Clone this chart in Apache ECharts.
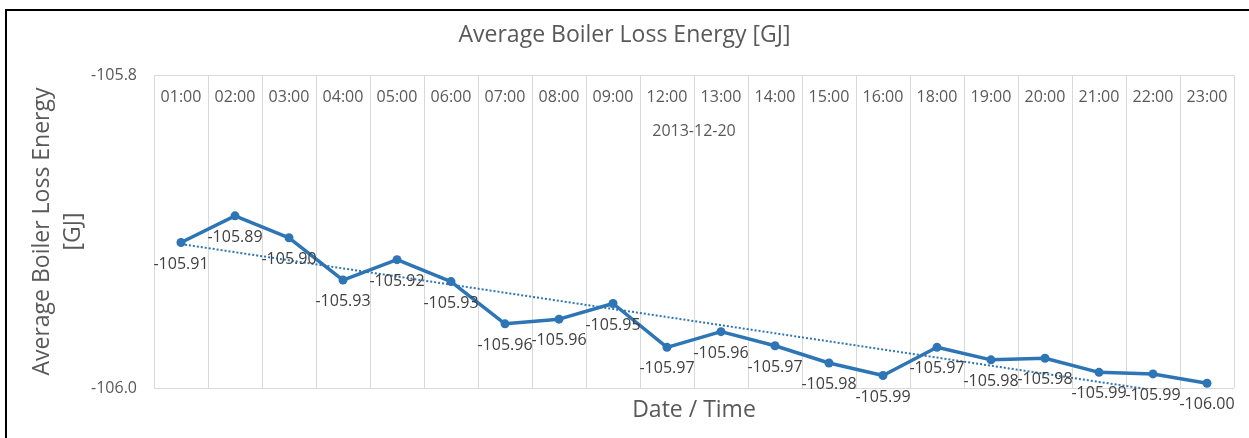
<!DOCTYPE html>
<html>
<head>
<meta charset="utf-8">
<script src="https://cdn.jsdelivr.net/npm/echarts@6/dist/echarts.min.js"></script>
<style>
  html, body { margin: 0; padding: 0; background: #fff; }
  #main { width: 1249px; height: 438px; }
</style>
</head>
<body>
<div id="main"></div>
<script>
  // data
  const hours = ['01:00', '02:00', '03:00', '04:00', '05:00', '06:00', '07:00', '08:00', '09:00', '12:00',
                 '13:00', '14:00', '15:00', '16:00', '18:00', '19:00', '20:00', '21:00', '22:00', '23:00'];
  const dayLabel = ['2013-12-20'];
  const lossEnergy = [-105.907, -105.890, -105.904, -105.931, -105.918, -105.932, -105.959, -105.956, -105.946, -105.974,
                      -105.964, -105.973, -105.984, -105.992, -105.974, -105.982, -105.981, -105.990, -105.991, -105.997];

  // linear trendline (least squares), like the Excel one
  const n = lossEnergy.length;
  const mx = (n - 1) / 2;
  const my = lossEnergy.reduce((a, b) => a + b, 0) / n;
  let sxy = 0, sxx = 0;
  lossEnergy.forEach((v, i) => { sxy += (i - mx) * (v - my); sxx += (i - mx) * (i - mx); });
  const slope = sxy / sxx;
  const trend = lossEnergy.map((v, i) => my + slope * (i - mx));

  const blue = '#2e75b6';
  const font = '"Open Sans", sans-serif';

  let myChart = echarts.init(document.getElementById('main'));
  let option = {
    backgroundColor: '#fff',
    animation: false,
    textStyle: { fontFamily: font },
    title: {
      text: 'Average Boiler Loss Energy [GJ]',
      left: 'center',
      top: 19,
      textStyle: { fontFamily: font, fontSize: 23, fontWeight: 'normal', color: '#595959' }
    },
    graphic: [{
      type: 'rect',
      shape: { x: 6, y: 10, width: 1300, height: 500 },
      style: { fill: 'none', stroke: '#000', lineWidth: 2 },
      silent: true
    }],
    grid: { left: 154, right: 15, top: 75, bottom: 50 },
    xAxis: [{
      type: 'category',
      data: hours,
      position: 'top',
      boundaryGap: true,
      axisLine: { show: false },
      axisTick: { show: false },
      axisLabel: { inside: true, margin: 14, fontSize: 16, color: '#595959', fontFamily: font, interval: 0 },
      splitLine: { show: true, interval: 0, lineStyle: { color: '#d9d9d9', width: 1 } }
    }, {
      type: 'category',
      data: dayLabel,
      position: 'top',
      axisLine: { show: false },
      axisTick: { show: false },
      axisLabel: { inside: true, margin: 48, fontSize: 16, color: '#595959', fontFamily: font },
      name: 'Date / Time',
      nameLocation: 'middle',
      nameGap: -347,
      nameMoveOverlap: false,
      nameTextStyle: { fontSize: 23, color: '#595959', fontFamily: font }
    }],
    yAxis: {
      type: 'value',
      min: -106.0,
      max: -105.8,
      interval: 0.2,
      name: 'Average Boiler Loss Energy\n[GJ]',
      nameLocation: 'middle',
      nameGap: 65,
      nameMoveOverlap: false,
      nameTextStyle: { fontSize: 23, color: '#595959', fontFamily: font, lineHeight: 31 },
      axisLine: { show: false },
      axisTick: { show: false },
      axisLabel: { margin: 17, fontSize: 16, color: '#595959', fontFamily: font,
                   formatter: v => v.toFixed(1) },
      splitLine: { show: true, lineStyle: { color: '#d9d9d9', width: 1 } }
    },
    series: [{
      name: 'Trend',
      type: 'line',
      data: trend,
      symbol: 'none',
      clip: true,
      lineStyle: { color: blue, width: 2, type: [2, 2] },
      z: 1
    }, {
      name: 'Average Boiler Loss Energy',
      type: 'line',
      data: lossEnergy,
      symbol: 'circle',
      symbolSize: 9,
      itemStyle: { color: blue },
      lineStyle: { color: blue, width: 3.5 },
      label: {
        show: true,
        position: 'bottom',
        distance: 9,
        fontSize: 16,
        color: '#404040',
        fontFamily: font,
        formatter: p => p.value.toFixed(2)
      },
      z: 3
    }]
  };
  myChart.setOption(option);
</script>
</body>
</html>
